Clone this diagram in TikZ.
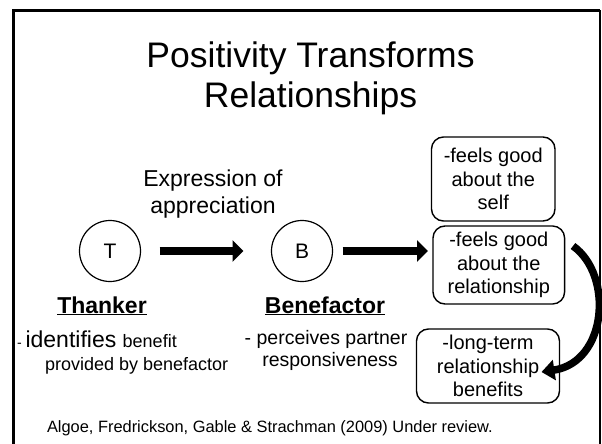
\documentclass[tikz,border=0pt]{standalone}
\usepackage{fontspec}
\setmainfont{Liberation Sans}
\usetikzlibrary{arrows.meta,calc}
\newcommand\fs[2]{\fontsize{#1}{#2}\selectfont}
\begin{document}
\begin{tikzpicture}[x=1pt,y=-1pt,
  every node/.style={inner sep=0pt, outer sep=0pt},
  titletext/.style={font=\fs{35.5}{40.5}, align=center},
  phrase/.style={font=\fs{23}{27}, align=center},
  person/.style={circle, draw, line width=1.2pt, minimum size=61pt, font=\fs{21}{24}},
  rolename/.style={font=\fs{23}{27}\bfseries, anchor=base},
  desc/.style={font=\fs{19.5}{23}, anchor=base},
  outcome/.style={draw, line width=1.4pt, rounded corners=12pt, align=center, font=\fs{20}{23.5}},
  fatarrow/.style={line width=8pt, -{Triangle[length=11pt,width=21pt]}},
  bendarrow/.style={line width=7.5pt, -{Triangle[length=13pt,width=20pt]}}
]
\useasboundingbox (0,0) rectangle (602,444);
\fill[white] (0,0) rectangle (602,444);

% slide frame
\draw[line width=2.5pt] (13.5,450) -- (13.5,10.5) -- (600,10.5);
\draw[line width=1.3pt] (600,10.5) -- (600,450);

% title
\node[titletext] (title) at (310.5,78.5) {Positivity Transforms\\Relationships};

% thanker and benefactor
\node[phrase] (expr) at (213,194) {Expression of\\appreciation};
\node[person] (T) at (110,251) {T};
\node[person] (B) at (302,251) {B};

\node[rolename] (thanker) at (102,313) {\underline{Thanker}};
\node[rolename] (benefactor) at (325,313) {\underline{Benefactor}};

\node[anchor=base west] (tdescA) at (17,347)
  {\fs{14}{16}- \fs{23}{26}identifies \fs{18}{21}benefit};
\node[anchor=base west, font=\fs{18}{21}] (tdescB) at (45,370) {provided by benefactor};

\node[desc] (bdescA) at (326,344) {- perceives partner};
\node[desc] (bdescB) at (330,366) {responsiveness};

% outcomes for the benefactor
\node[outcome, minimum width=123.5pt, minimum height=84pt] (self) at (493.25,179)
  {-feels good\\about the\\self};
\node[outcome, minimum width=131.6pt, minimum height=78pt] (rel) at (498.8,265)
  {-feels good\\about the\\relationship};
\node[outcome, minimum width=143pt, minimum height=74pt] (long) at (488,366)
  {-long-term\\relationship\\benefits};

% connectors
\draw[fatarrow, shorten <=19pt, shorten >=28pt] (T) -- (B);
\draw[fatarrow, shorten <=10pt, shorten >=5pt] (B) -- (B -| rel.west);
\draw[bendarrow] ($(rel.north east)+(8.4,20)$)
  .. controls ($(rel.north east)+(49,49)$) and ($(long.east)+(48,-4)$)
  .. ($(long.east)+(-18,6)$);

% reference
\node[anchor=base west, font=\fs{16.4}{19}] (cite) at (47,432)
  {Algoe, Fredrickson, Gable \& Strachman (2009) Under review.};
\end{tikzpicture}
\end{document}
